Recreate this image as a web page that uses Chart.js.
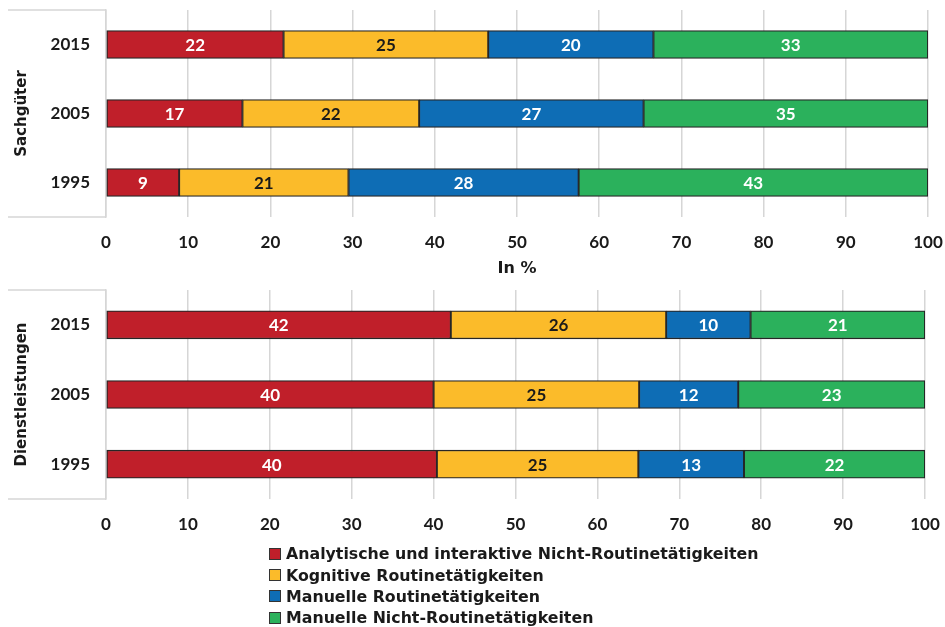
<!DOCTYPE html>
<html lang="de">
<head>
<meta charset="UTF-8" />
<title>Tätigkeiten in Sachgüter und Dienstleistungen</title>
<script src="https://cdn.jsdelivr.net/npm/chart.js"></script>
<style>
  body { margin: 0; background: #fff; font-family: "DejaVu Sans", sans-serif; }
  #wrap { position: relative; width: 945px; height: 627px; overflow: hidden; }
  #topChart { position: absolute; left: 0; top: 0; }
  #bottomChart { position: absolute; left: 0; top: 280px; }
  #legend { position: absolute; left: 269px; top: 543px; font-weight: bold; font-size: 15.8px; color: #1a1a1a; }
  #legend div { height: 21.4px; display: flex; align-items: center; }
  #legend span { display: inline-block; width: 10px; height: 10px; border: 1px solid #333; margin-right: 5px; }
</style>
</head>
<body>
<div id="wrap">
  <canvas id="topChart" width="945" height="290"></canvas>
  <canvas id="bottomChart" width="945" height="265"></canvas>
  <div id="legend"></div>
</div>

<script>
// Kategorien und Serien
const years = ['2015', '2005', '1995'];
const seriesNames = [
  'Analytische und interaktive Nicht-Routinetätigkeiten',
  'Kognitive Routinetätigkeiten',
  'Manuelle Routinetätigkeiten',
  'Manuelle Nicht-Routinetätigkeiten'
];

// Sachgüter (2015, 2005, 1995), in %
const sachAnalytisch = [21.6, 16.6, 8.9];
const sachKognitiv   = [24.9, 21.5, 20.6];
const sachManuellR   = [20.1, 27.3, 28.0];
const sachManuellNR  = [33.4, 34.6, 42.5];

// Dienstleistungen (2015, 2005, 1995), in %
const dienstAnalytisch = [42.1, 40.0, 40.4];
const dienstKognitiv   = [26.3, 25.1, 24.6];
const dienstManuellR   = [10.3, 12.1, 12.9];
const dienstManuellNR  = [21.3, 22.8, 22.1];

const colors = ['#c01f2a', '#fbbb2a', '#0e6db5', '#2bb15c'];
const labelColors = ['#ffffff', '#1a1a1a', '#ffffff', '#ffffff'];
const textColor = '#1a1a1a';
const gridColor = '#d6d6d6';
const numFont = { family: 'Lato', weight: 'bold', size: 17 };
const titleFont = { family: 'DejaVu Sans', weight: 'bold', size: 15 };

// Werte mittig in die Balken schreiben
const barLabels = {
  id: 'barLabels',
  afterDatasetsDraw(chart) {
    const ctx = chart.ctx;
    ctx.save();
    ctx.font = 'bold 17px Lato';
    ctx.textAlign = 'center';
    ctx.textBaseline = 'middle';
    chart.data.datasets.forEach((ds, i) => {
      chart.getDatasetMeta(i).data.forEach((bar, j) => {
        const p = bar.getCenterPoint();
        ctx.fillStyle = ds.labelColor;
        ctx.fillText(String(Math.round(ds.data[j])), p.x, p.y + 1);
      });
    });
    ctx.restore();
  }
};

// graue Linien oben/unten links neben der Achse
const sideBox = {
  id: 'sideBox',
  beforeDatasetsDraw(chart) {
    const { ctx, chartArea } = chart;
    ctx.save();
    ctx.strokeStyle = gridColor;
    ctx.lineWidth = 1.5;
    ctx.beginPath();
    ctx.moveTo(8, chartArea.top);
    ctx.lineTo(chartArea.left, chartArea.top);
    ctx.moveTo(8, chartArea.bottom);
    ctx.lineTo(chartArea.left, chartArea.bottom);
    ctx.stroke();
    ctx.restore();
  }
};

function noOverflow(s) {
  s.paddingTop = 0; s.paddingBottom = 0; s.paddingLeft = 0; s.paddingRight = 0;
}

function makeChart(id, series, yTitle, xTitle, rightPad, xHeight) {
  return new Chart(document.getElementById(id), {
    type: 'bar',
    data: {
      labels: years,
      datasets: series.map((d, i) => ({
        label: seriesNames[i],
        data: d,
        backgroundColor: colors[i],
        borderColor: '#262626',
        borderWidth: 1.3,
        borderSkipped: false,
        barThickness: 28,
        labelColor: labelColors[i]
      }))
    },
    options: {
      indexAxis: 'y',
      responsive: false,
      animation: false,
      layout: { padding: { top: 10, right: rightPad, left: 0, bottom: 0 } },
      plugins: { legend: { display: false }, tooltip: { enabled: false } },
      scales: {
        x: {
          stacked: true,
          min: 0,
          max: 100,
          ticks: { stepSize: 10, padding: 15, color: textColor, font: numFont },
          grid: { color: gridColor, lineWidth: 1.5, drawTicks: false },
          border: { display: false },
          title: {
            display: !!xTitle,
            text: xTitle || '',
            color: textColor,
            padding: { top: 4, bottom: 12 },
            font: { family: 'DejaVu Sans', weight: 'bold', size: 16 }
          },
          afterFit: s => { s.height = xHeight; noOverflow(s); }
        },
        y: {
          stacked: true,
          ticks: { padding: 16, color: textColor, font: numFont },
          grid: { display: false, drawTicks: false },
          border: { color: gridColor, width: 1.5 },
          title: {
            display: true,
            text: yTitle,
            color: textColor,
            padding: { top: 13, bottom: 0 },
            font: titleFont
          },
          afterFit: s => { s.width = 106; noOverflow(s); }
        }
      }
    },
    plugins: [sideBox, barLabels]
  });
}

makeChart('topChart', [sachAnalytisch, sachKognitiv, sachManuellR, sachManuellNR], 'Sachgüter', 'In %', 17, 73);
makeChart('bottomChart', [dienstAnalytisch, dienstKognitiv, dienstManuellR, dienstManuellNR], 'Dienstleistungen', null, 20, 46);

// Legende
const legend = document.getElementById('legend');
seriesNames.forEach((name, i) => {
  const row = document.createElement('div');
  const box = document.createElement('span');
  box.style.background = colors[i];
  row.appendChild(box);
  row.appendChild(document.createTextNode(name));
  legend.appendChild(row);
});
</script>
</body>
</html>
